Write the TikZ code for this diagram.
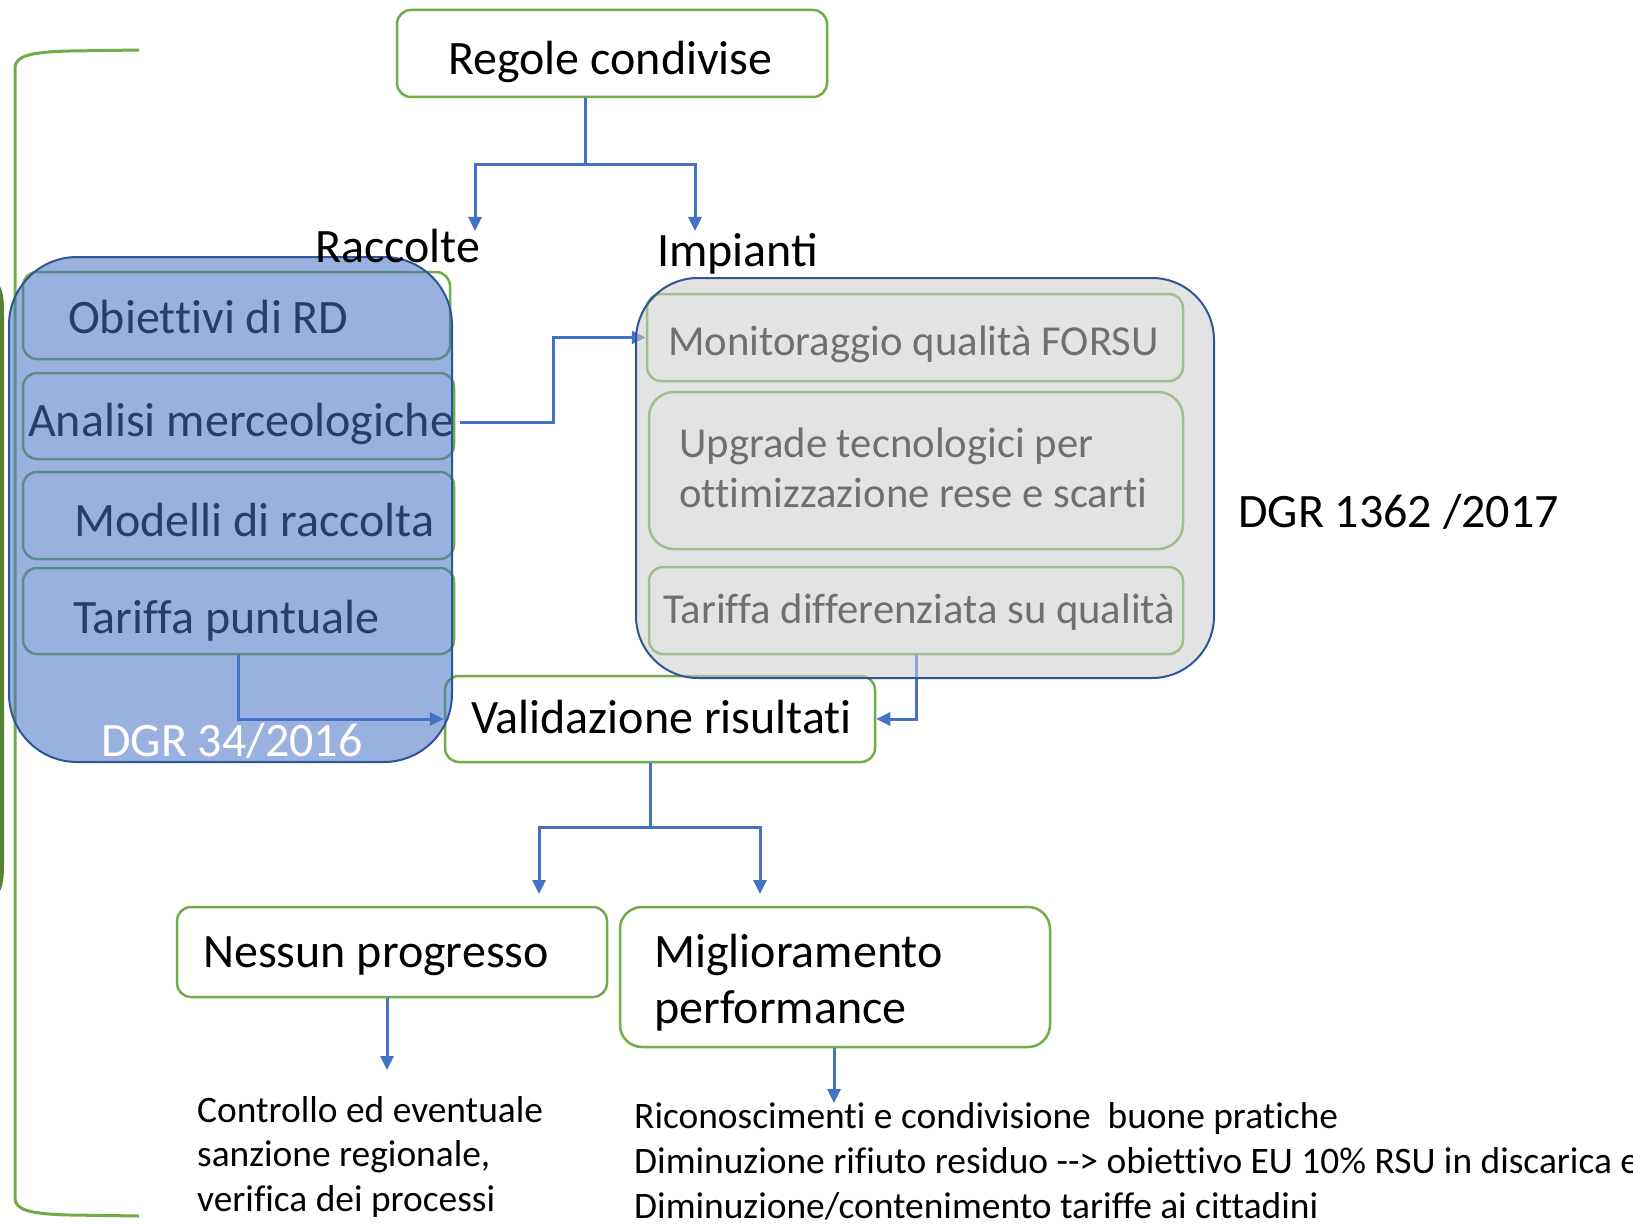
\documentclass[tikz,border=0pt]{standalone}
\usepackage{fontspec}
\setmainfont{Carlito}[Ligatures={TeX,NoCommon}]
\newfontfamily\ligfont{Carlito}[Ligatures=TeX]
\usetikzlibrary{arrows.meta,calc}
\definecolor{cgreen}{HTML}{70AD47}
\definecolor{cdkgreen}{HTML}{548235}
\definecolor{cblue}{HTML}{4472C4}
\definecolor{cnavy}{HTML}{2F5597}
\definecolor{cgrayov}{HTML}{CDCDCD}
\begin{document}
\begin{tikzpicture}[x=1pt,y=-1pt,
  gbox/.style={draw=cgreen, line width=2.5pt, rounded corners=14pt, inner sep=0pt},
  wbox/.style={gbox, fill=white},
  txt/.style={inner sep=0pt, anchor=base west, font=\fontsize{48}{58}\selectfont},
  gtxt/.style={inner sep=0pt, anchor=base west, font=\fontsize{42.7}{51}\selectfont},
  stxt/.style={inner sep=0pt, anchor=base west, font=\fontsize{37.4}{45}\selectfont},
  conn/.style={draw=cblue, line width=3pt},
  arr/.style={conn, -{Triangle[length=14pt,width=13pt]}},
  bigov/.style={draw=cnavy, line width=2pt, inner sep=0pt}
]
\useasboundingbox (0,0) rectangle (1633,1225);
\clip (0,0) rectangle (1633,1225);
\fill[white] (0,0) rectangle (1633,1225);

% side brackets
\draw[cgreen, line width=3pt] (139,50) -- (70,51) .. controls (30,52) and (15,56) .. (15,68) -- (15,1198) .. controls (15,1210) and (30,1214) .. (70,1215) -- (139,1216);
\draw[cdkgreen, line width=4pt] (-10,280) .. controls (1,285) and (2,295) .. (2,315) -- (2,862) .. controls (2,882) and (1,892) .. (-10,898);

% top
\node[wbox, minimum width=430pt, minimum height=87pt] (regole) at (612,53.5) {};
\node[txt] (regoleT) at (448,75) {Regole condivise};
\coordinate (split1) at (585,165);
\coordinate (racTip) at (475,231);
\coordinate (impTip) at (695,231);
\draw[conn] (split1 |- regole.south) -- (split1);
\draw[arr] (split1) -| (racTip);
\draw[arr] (split1) -| (impTip);

% left group inner boxes
\node[gbox, minimum width=427pt, minimum height=87pt] (obiet) at (236.5,315.5) {};
\node[gbox, minimum width=431pt, minimum height=86pt] (analisi) at (238.5,416) {};
\node[gbox, minimum width=431pt, minimum height=87pt] (modelli) at (238.5,515.5) {};
\node[gbox, minimum width=431pt, minimum height=86pt] (tariffaP) at (238.5,611) {};
\node[txt] at (68,333) {Obiettivi di RD};
\node[txt] at (28,436) {Analisi merceologiche};
\node[txt] at (74,536) {Modelli di raccolta};
\node[txt] at (73,633) {Tariffa puntuale};

% validazione
\node[wbox, minimum width=430pt, minimum height=86pt] (valid) at (660,719) {};
\node[txt] at (471,733) {Validazione risultati};

% right group inner boxes
\node[gbox, minimum width=536pt, minimum height=87pt] (monitor) at (915,337.5) {};
\node[gbox, rounded corners=25pt, minimum width=534pt, minimum height=157pt] (upgrade) at (916,470.5) {};
\node[gbox, minimum width=534pt, minimum height=87pt] (tariffaD) at (916,610.5) {};
\node[gtxt] at (668,355) {Monitoraggio qualità FORSU};
\node[gtxt] at (679,457) {Upgrade tecnologici per};
\node[gtxt] at (679,507) {ottimizzazione rese e scarti};
\node[gtxt] at (663,623) {Tariffa differenziata su qualità};

% connectors under overlays
\coordinate (amid) at (553,337.5);
\draw[arr] ([shift={(5,6)}]analisi.east) -| (amid) -- (monitor.west);
\draw[arr] (tariffaD.south) |- (valid.east);

% overlays
\node[bigov, fill=cblue, fill opacity=0.55, rounded corners=68pt, minimum width=443pt, minimum height=505pt] (raccbox) at (230.5,509.5) {};
\node[bigov, fill=cgrayov, fill opacity=0.545, rounded corners=62pt, minimum width=578pt, minimum height=400pt] (impbox) at (925,478) {};

\node[txt, text=white] at (101,756) {DGR 34/2016};
\node[txt] (racT) at (315,262) {Raccolte};
\node[txt] (impT) at (657,266) {\ligfont Impianti};
\node[txt] (dgr2) at (1238,527) {DGR 1362 /2017};
\draw[arr] (tariffaP.south) |- (valid.west);

% lower part
\coordinate (split2) at (650,827);
\coordinate (nesTip) at (539,894);
\coordinate (migTip) at (760,894);
\draw[conn] (split2 |- valid.south) -- (split2);
\draw[arr] (split2) -| (nesTip);
\draw[arr] (split2) -| (migTip);

\node[wbox, minimum width=430pt, minimum height=90pt] (nessun) at (392,952) {};
\node[txt] at (203,967) {Nessun progresso};
\node[wbox, rounded corners=22pt, minimum width=430pt, minimum height=140pt] (miglior) at (835,977) {};
\node[txt] at (654,967) {Miglioramento};
\node[txt] at (654,1023) {performance};

\coordinate (ctrlTip) at (387,1070);
\coordinate (ricTip) at (834,1103);
\draw[arr] (ctrlTip |- nessun.south) -- (ctrlTip);
\draw[arr] (ricTip |- miglior.south) -- (ricTip);

\node[stxt] at (197,1122) {Controllo ed eventuale};
\node[stxt] at (197,1166) {sanzione regionale,};
\node[stxt] at (197,1211) {verifica dei processi};
\node[stxt] at (634,1128) {Riconoscimenti e condivisione\ \ buone pratiche};
\node[stxt] at (634,1173) {Diminuzione rifiuto residuo -{}-> obiettivo EU 10\% RSU in discarica e};
\node[stxt] at (634,1218) {Diminuzione/contenimento tariffe ai cittadini};
\end{tikzpicture}
\end{document}
